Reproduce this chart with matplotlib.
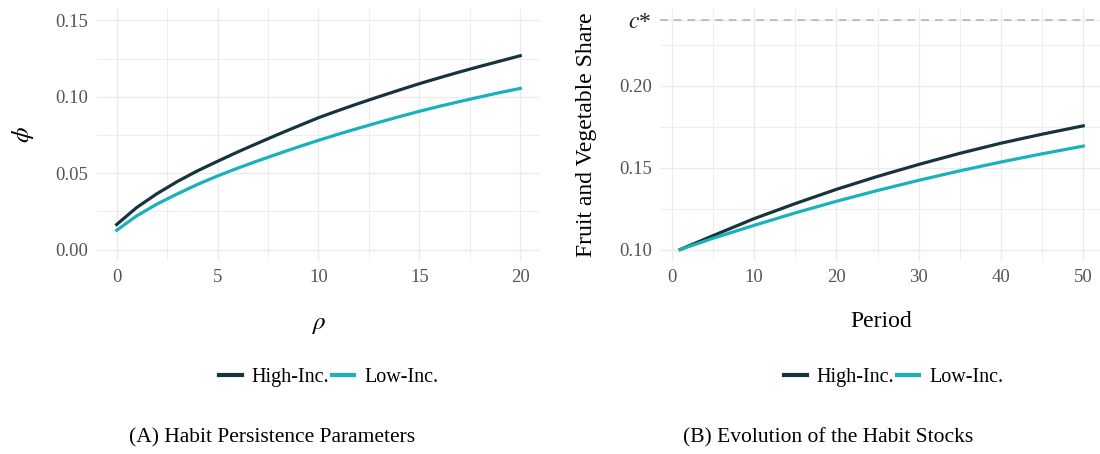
import numpy as np
import matplotlib
matplotlib.use("Agg")
import matplotlib.pyplot as plt
from matplotlib.lines import Line2D
from matplotlib.ticker import MultipleLocator, FixedLocator

plt.rcParams['font.family'] = ['Liberation Serif', 'DejaVu Serif']
plt.rcParams['mathtext.fontset'] = 'stix'

# Panel A: habit persistence parameter phi as function of rho
rho = list(range(0, 21))
phi_high = [0.0164, 0.0276, 0.0366, 0.0445, 0.0515, 0.0578, 0.0639, 0.0697, 0.0754, 0.0809,
            0.0863, 0.0911, 0.0957, 0.1001, 0.1044, 0.1086, 0.1125, 0.1163, 0.1199, 0.1234,
            0.1269]
phi_low = [0.0126, 0.0221, 0.0298, 0.0364, 0.0426, 0.0482, 0.0533, 0.0581, 0.0627, 0.0672,
           0.0715, 0.0756, 0.0795, 0.0833, 0.0870, 0.0905, 0.0938, 0.0969, 0.0999, 0.1028,
           0.1055]

# Panel B: evolution of fruit and vegetable share
period = [1, 5, 10, 15, 20, 25, 30, 35, 40, 45, 50]
share_high = [0.100, 0.1085, 0.1189, 0.1281, 0.1368, 0.1447, 0.152, 0.1588, 0.165, 0.1705, 0.1756]
share_low = [0.100, 0.1069, 0.1148, 0.1224, 0.1295, 0.1361, 0.1423, 0.1481, 0.1535, 0.1585, 0.1632]
c_star = 0.24

labels = ["High-Inc.", "Low-Inc."]
col_high = "#16343d"
col_low = "#19b2ba"
tick_col = "#555555"
grid_col = "#ebebeb"

W, H = 1100, 454
fig = plt.figure(figsize=(W / 100, H / 100), dpi=100)


def px_axes(x0, x1, y0, y1):
    return fig.add_axes([x0 / W, 1 - y1 / H, (x1 - x0) / W, (y1 - y0) / H])


def style(ax):
    for s in ax.spines.values():
        s.set_visible(False)
    ax.grid(True, which='major', color=grid_col, lw=1.0)
    ax.grid(True, which='minor', color=grid_col, lw=0.6)
    ax.set_axisbelow(True)
    ax.tick_params(which='both', length=0, labelsize=13.5, labelcolor=tick_col, pad=6)


# ---- left panel
ax1 = px_axes(96.5, 540.4, 9, 261)
ax1.plot(rho, phi_high, color=col_high, lw=2.3)
ax1.plot(rho, phi_low, color=col_low, lw=2.3)
ax1.set_xlim(-1, 21)
ax1.set_ylim(-0.0075, 0.1575)
ax1.xaxis.set_major_locator(MultipleLocator(5))
ax1.xaxis.set_minor_locator(MultipleLocator(2.5))
ax1.yaxis.set_major_locator(FixedLocator([0, 0.05, 0.10, 0.15]))
ax1.yaxis.set_minor_locator(FixedLocator([0.025, 0.075, 0.125]))
ax1.set_yticklabels(["0.00", "0.05", "0.10", "0.15"])
style(ax1)
ax1.set_xlabel(r"$\rho$", fontsize=18, labelpad=20)
ax1.set_ylabel(r"$\phi$", fontsize=18, labelpad=14)

# ---- right panel
ax2 = px_axes(660, 1103.4, 9, 261)
ax2.plot(period, share_high, color=col_high, lw=2.3)
ax2.plot(period, share_low, color=col_low, lw=2.3)
ax2.axhline(c_star, color="#b0b0b0", lw=1.1, ls=(0, (5, 4)))
ax2.set_xlim(-1.45, 52.45)
ax2.set_ylim(0.093, 0.247)
ax2.xaxis.set_major_locator(MultipleLocator(10))
ax2.xaxis.set_minor_locator(MultipleLocator(5))
ax2.yaxis.set_major_locator(FixedLocator([0.10, 0.15, 0.20, c_star]))
ax2.yaxis.set_minor_locator(FixedLocator([0.125, 0.175, 0.225]))
ax2.set_yticklabels(["0.10", "0.15", "0.20", r"$c$*"])
style(ax2)
ax2.get_yticklabels()[-1].set_fontsize(17)
ax2.get_yticklabels()[-1].set_color("#222222")
ax2.set_xlabel("Period", fontsize=17, labelpad=18)
ax2.set_ylabel("Fruit and Vegetable Share", fontsize=17, labelpad=16)

# ---- legends
handles = [Line2D([], [], color=col_high, lw=3), Line2D([], [], color=col_low, lw=3)]
for cx in (329, 894):
    fig.legend(handles, labels, loc='center', bbox_to_anchor=(cx / W, 1 - 377 / H),
               ncol=2, frameon=False, fontsize=14.5, handlelength=1.1,
               handletextpad=0.5, columnspacing=0.15)

# ---- captions
fig.text(272 / W, 1 - 438 / H, "(A) Habit Persistence Parameters", ha='center', va='center',
         fontsize=15.5)
fig.text(828 / W, 1 - 438 / H, "(B) Evolution of the Habit Stocks", ha='center', va='center',
         fontsize=15.5)

fig.savefig("out.png", dpi=100)
